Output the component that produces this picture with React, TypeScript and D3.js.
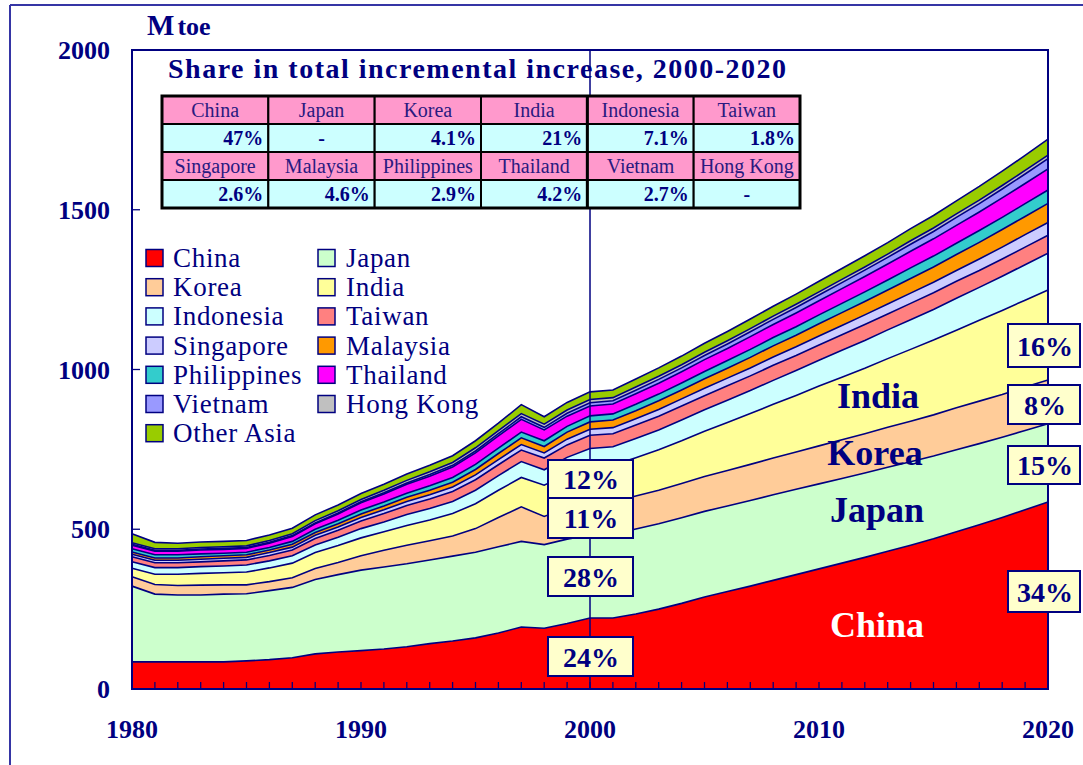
import React from 'react';
import * as d3 from 'd3';

const years = [1980,1981,1982,1983,1984,1985,1986,1987,1988,1989,1990,1991,1992,1993,1994,1995,1996,1997,1998,1999,2000,2001,2002,2003,2004,2005,2006,2007,2008,2009,2010,2011,2012,2013,2014,2015,2016,2017,2018,2019,2020];

const china = [85,85,85,85,85,88,92,98,110,116,120,125,132,142,150,160,175,194,190,205,222,222,235,250,268,288,305,322,340,358,376,394,412,431,450,470,492,514,537,561,585];
const japan = [237,212,209,209,212,210,216,220,233,242,252,257,260,262,266,268,270,268,262,264,260,262,266,267,268,268,268,268,268,267,266,265,264,263,261,259,257,254,251,248,245];
const korea = [29,30,30,31,29,28,28,30,34,38,45,52,58,60,63,74,92,108,88,98,102,102,103,105,107,109,111,113,115,117,119,121,123,125,127,129,131,133,134,136,137];
const india = [27,32,35,37,38,40,43,46,50,53,56,58,62,65,70,78,85,92,98,105,111,114,120,127,134,142,150,159,168,177,187,196,205,215,225,234,243,253,263,272,282];
const indonesia = [20,21,21,21,21,22,22,23,24,26,29,31,34,36,38,42,46,50,48,53,58,58,60,62,65,67,70,72,75,78,81,84,87,90,93,96,100,103,107,111,115];
const taiwan = [16,15,15,15,16,16,17,18,20,22,24,26,28,30,31,33,34,36,37,39,41,41,42,43,44,44,45,46,47,47,48,49,50,50,51,52,53,53,54,55,56];
const singapore = [8,8,8,8,8,8,9,9,10,10,11,12,13,13,14,15,16,17,16,18,19,19,20,21,22,23,24,25,26,27,28,29,30,31,32,33,34,36,37,39,40];
const malaysia = [7,7,7,8,8,8,8,9,9,10,11,12,13,14,15,17,19,21,20,22,23,24,25,27,28,30,31,33,35,36,38,40,42,44,46,48,50,52,55,57,60];
const philippines = [10,10,10,9,8,8,8,9,10,11,12,12,13,14,15,16,17,18,18,18,19,19,20,21,22,23,24,25,26,27,28,29,30,31,33,34,35,37,38,40,42];
const thailand = [11,11,11,12,12,12,13,15,17,20,23,25,28,30,33,36,38,40,34,32,31,31,33,34,35,37,38,40,41,43,44,46,48,50,52,54,56,58,61,63,66];
const vietnam = [3,3,3,3,3,3,3,3,3,3,3,4,4,5,5,6,7,8,8,9,10,10,11,12,12,13,14,15,16,17,18,19,20,21,22,23,25,26,28,30,32];
const hongKong = [5,5,5,5,5,5,6,6,7,7,7,8,8,9,9,10,10,10,10,10,10,10,10,10,10,10,10,10,10,10,10,10,10,10,11,11,11,11,11,11,11];
const otherAsia = [28,20,17,17,17,17,17,17,18,18,19,19,20,20,21,22,23,28,23,24,24,24,25,26,27,28,29,30,31,32,33,34,35,36,38,39,41,43,45,47,50];

const seriesNames = ['China','Japan','Korea','India','Indonesia','Taiwan','Singapore','Malaysia','Philippines','Thailand','Vietnam','Hong Kong','Other Asia'];
const seriesValues = [china,japan,korea,india,indonesia,taiwan,singapore,malaysia,philippines,thailand,vietnam,hongKong,otherAsia];
const seriesColors = ['#FF0000','#CCFFCC','#FFCC99','#FFFF99','#CCFFFF','#FF8080','#CCCCFF','#FF9900','#33CCCC','#FF00FF','#9999FF','#C0C0C0','#99CC00'];

const yTicks = [0,500,1000,1500,2000];
const xTickLabels = [1980,1990,2000,2010,2020];

const shareHeader1 = ['China','Japan','Korea','India','Indonesia','Taiwan'];
const shareValues1 = ['47%','-','4.1%','21%','7.1%','1.8%'];
const shareHeader2 = ['Singapore','Malaysia','Philippines','Thailand','Vietnam','Hong Kong'];
const shareValues2 = ['2.6%','4.6%','2.9%','4.2%','2.7%','-'];

const shares2000 = ['12%','11%','28%','24%'];
const shares2020 = ['16%','8%','15%','34%'];
const areaLabels = ['India','Korea','Japan','China'];

const NAVY = '#000080';
const SERIF = '"Liberation Serif", "Times New Roman", "DejaVu Serif", serif';

export default function App() {
  const W = 1083, H = 765;
  const L = 132, R = 1048, T = 50, B = 689;
  const x = d3.scaleLinear().domain([1980, 2020]).range([L, R]);
  const y = d3.scaleLinear().domain([0, 2000]).range([B, T]);

  const rows = years.map((yr, i) => {
    const o: any = { year: yr };
    seriesNames.forEach((n, k) => { o[n] = seriesValues[k][i]; });
    return o;
  });
  const stacked = d3.stack<any>().keys(seriesNames)(rows);
  const area = d3.area<any>().x(d => x(d.data.year)).y0(d => y(d[0])).y1(d => y(d[1]));
  const line = d3.line<any>().x(d => x(d.data.year)).y(d => y(d[1]));

  const x2000 = x(2000);
  const tableX0 = 162, tableW = 638, tableY0 = 96, rowH = 28;
  const colW = tableW / 6;
  const tableRows = [
    { cells: shareHeader1, header: true },
    { cells: shareValues1, header: false },
    { cells: shareHeader2, header: true },
    { cells: shareValues2, header: false },
  ];

  const leftBoxes = [
    { top: 460, h: 38 }, { top: 498, h: 40 }, { top: 557, h: 39 }, { top: 637, h: 39 },
  ];
  const rightBoxes = [
    { top: 324, h: 43 }, { top: 385, h: 39 }, { top: 446, h: 38 }, { top: 571, h: 41 },
  ];
  const areaLabelPos = [
    { x: 878, y: 408, fill: NAVY }, { x: 875, y: 465, fill: NAVY },
    { x: 877, y: 522, fill: NAVY }, { x: 877, y: 637, fill: '#FFFFFF' },
  ];

  return (
    <svg width={W} height={H} style={{ position: 'absolute', left: 0, top: 0, background: '#fff' }}
      fontFamily={SERIF}>
      <rect x={0} y={0} width={W} height={H} fill="#ffffff" />
      {/* outer frame */}
      <line x1={10} y1={5} x2={W} y2={5} stroke="#3535a5" strokeWidth={2} />
      <line x1={10} y1={5} x2={10} y2={H} stroke="#3535a5" strokeWidth={2} />

      {/* areas */}
      {stacked.map((s, k) => (
        <path key={'a' + k} d={area(s) || ''} fill={seriesColors[k]} stroke="none" />
      ))}
      {stacked.map((s, k) => (
        <path key={'l' + k} d={line(s) || ''} fill="none" stroke={NAVY} strokeWidth={1.6} />
      ))}

      {/* 2000 vertical line */}
      <line x1={x2000} y1={T} x2={x2000} y2={B} stroke={NAVY} strokeWidth={1.5} />

      {/* x ticks */}
      {years.map(yr => (
        <line key={'xt' + yr} x1={x(yr)} y1={B} x2={x(yr)} y2={B - 7} stroke={NAVY} strokeWidth={1.3} />
      ))}
      {/* y ticks */}
      {yTicks.map(v => (
        <line key={'yt' + v} x1={L} y1={y(v)} x2={L + 8} y2={y(v)} stroke={NAVY} strokeWidth={1.3} />
      ))}
      {/* plot frame */}
      <rect x={L} y={T} width={R - L} height={B - T} fill="none" stroke={NAVY} strokeWidth={2} />

      {/* axis labels */}
      {yTicks.map(v => (
        <text key={'yl' + v} x={110} y={y(v) + 9} textAnchor="end" fontSize={26} fontWeight="bold" fill={NAVY}>{v}</text>
      ))}
      {xTickLabels.map(v => (
        <text key={'xl' + v} x={x(v)} y={738} textAnchor="middle" fontSize={26} fontWeight="bold" fill={NAVY}>{v}</text>
      ))}
      <text x={147} y={35} fontWeight="bold" fill={NAVY}>
        <tspan fontSize={29}>M</tspan><tspan fontSize={26} dx={3}>toe</tspan>
      </text>

      {/* title */}
      <text x={168} y={78} fontSize={28} fontWeight="bold" fill={NAVY} textLength={618} lengthAdjust="spacing">
        Share in total incremental increase, 2000-2020
      </text>

      {/* table */}
      {tableRows.map((r, ri) => (
        <g key={'tr' + ri}>
          {r.cells.map((c, ci) => {
            const cx = tableX0 + ci * colW;
            const cy = tableY0 + ri * rowH;
            const isDash = c === '-';
            return (
              <g key={'tc' + ci}>
                <rect x={cx} y={cy} width={colW} height={rowH} fill={r.header ? '#FF99CC' : '#CCFFFF'} stroke="#000" strokeWidth={2} />
                <text
                  x={r.header || isDash ? cx + colW / 2 : cx + colW - 5}
                  y={cy + 21}
                  textAnchor={r.header || isDash ? 'middle' : 'end'}
                  fontSize={20}
                  fontWeight={r.header ? 'normal' : 'bold'}
                  fill={r.header ? '#2a1a80' : NAVY}
                >{c}</text>
              </g>
            );
          })}
        </g>
      ))}
      <rect x={tableX0} y={tableY0} width={tableW} height={rowH * 4} fill="none" stroke="#000" strokeWidth={3} />
      <line x1={tableX0 + 4 * colW} y1={tableY0} x2={tableX0 + 4 * colW} y2={tableY0 + rowH * 4} stroke="#000" strokeWidth={3} />

      {/* legend */}
      {seriesNames.map((n, k) => {
        const col = k % 2;
        const row = Math.floor(k / 2);
        const cy = 258 + row * 29.2;
        const sx = col === 0 ? 146 : 318;
        const tx = col === 0 ? 173 : 346;
        return (
          <g key={'lg' + k}>
            <rect x={sx} y={cy - 8.5} width={17} height={17} fill={seriesColors[k]} stroke={NAVY} strokeWidth={1.5} />
            <text x={tx} y={cy + 9} fontSize={27} letterSpacing={0.7} fill={NAVY}>{n}</text>
          </g>
        );
      })}

      {/* area labels */}
      {areaLabels.map((t, i) => (
        <text key={'al' + i} x={areaLabelPos[i].x} y={areaLabelPos[i].y} textAnchor="middle" fontSize={36} fontWeight="bold" fill={areaLabelPos[i].fill}>{t}</text>
      ))}

      {/* share boxes at 2000 */}
      {shares2000.map((t, i) => (
        <g key={'lb' + i}>
          <rect x={x2000 - 42} y={leftBoxes[i].top} width={85} height={leftBoxes[i].h} fill="#FFFFCC" stroke={NAVY} strokeWidth={2} />
          <text x={x2000 + 1} y={leftBoxes[i].top + leftBoxes[i].h / 2 + 10} textAnchor="middle" fontSize={28} fontWeight="bold" fill={NAVY}>{t}</text>
        </g>
      ))}
      {/* share boxes at 2020 */}
      {shares2020.map((t, i) => (
        <g key={'rb' + i}>
          <rect x={1008} y={rightBoxes[i].top} width={72} height={rightBoxes[i].h} fill="#FFFFCC" stroke={NAVY} strokeWidth={2} />
          <text x={1045} y={rightBoxes[i].top + rightBoxes[i].h / 2 + 10} textAnchor="middle" fontSize={28} fontWeight="bold" fill={NAVY}>{t}</text>
        </g>
      ))}
    </svg>
  );
}
